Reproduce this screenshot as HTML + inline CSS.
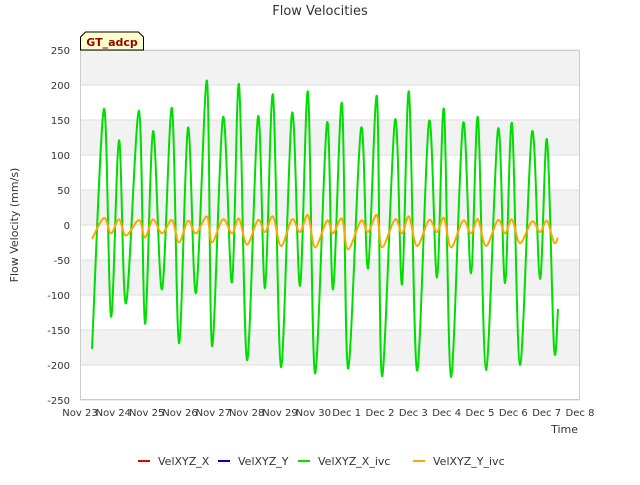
<!DOCTYPE html>
<html><head><meta charset="utf-8">
<style>
body{margin:0;background:#fff;font-family:"Liberation Sans","DejaVu Sans",sans-serif;}
svg text{font-family:"DejaVu Sans","Liberation Sans",sans-serif;}
</style></head>
<body>
<svg id="chart" width="640" height="480" xmlns="http://www.w3.org/2000/svg">
<rect width="640" height="480" fill="#fff"/>
<g id="bands"></g>
<g id="grid"></g>
<g id="series"></g>
<g id="axes"></g>
<text x="320" y="15" text-anchor="middle" font-size="13" fill="#333">Flow Velocities</text>
<text transform="translate(18,225) rotate(-90)" text-anchor="middle" font-size="11" fill="#333">Flow Velocity (mm/s)</text>
<text x="578" y="433" text-anchor="end" font-size="11" fill="#333">Time</text>
<g>
<path d="M80.5,50 L80.5,37 L85.5,32 L138.5,32 L143.5,37 L143.5,50 Z" fill="#ffffcc" stroke="#000" stroke-width="1"/>
<text x="112" y="46" text-anchor="middle" font-size="11" font-weight="bold" fill="#990000">GT_adcp</text>
</g>
<g id="legend"></g>
</svg>
<script>
const xTickLabels=["Nov 23","Nov 24","Nov 25","Nov 26","Nov 27","Nov 28","Nov 29","Nov 30","Dec 1","Dec 2","Dec 3","Dec 4","Dec 5","Dec 6","Dec 7","Dec 8"];
const yTicks=[-250,-200,-150,-100,-50,0,50,100,150,200,250];
const extremeX=[92,104,111,119,126,139,145,153,162,172,179,188,196,207,212,223,232,239,247,258,265,273,281,292,300,308,315,327,333,342,348,361,368,377,382,395,402,409,417,429,437,444,451,463,471,478,486,498,505,512,520,532,540,547,554,558];
const greenVals=[-177,166,-131,121,-112,163,-141,134,-92,167,-169,139,-97,206,-173,154,-82,201,-193,155,-90,186,-203,160,-87,190,-212,146,-92,174,-205,138,-62,183,-216,150,-85,190,-208,148,-75,165,-217,145,-69,153,-207,137,-83,145,-200,133,-77,122,-175,-120];
const orangeVals=[-20,10,-12,8,-15,7,-18,8,-12,7,-25,6,-12,12,-25,8,-12,9,-28,7,-10,12,-30,8,-10,14,-32,6,-12,9,-35,6,-10,14,-32,8,-12,12,-30,7,-10,10,-32,6,-12,8,-30,7,-12,8,-26,5,-10,6,-25,-18];
const greenTimes=extremeX.map(v=>(v-80)/33.333);
const NS="http://www.w3.org/2000/svg";
const L=80,R=580,T=50,B=400;
const xs=d=>L+d*(R-L)/15;
const ys=v=>T+(250-v)*(B-T)/500;
function mk(tag,attrs,parent){const e=document.createElementNS(NS,tag);for(const k in attrs)e.setAttribute(k,attrs[k]);parent.appendChild(e);return e;}
const bands=document.getElementById('bands'),grid=document.getElementById('grid'),axes=document.getElementById('axes'),series=document.getElementById('series'),legend=document.getElementById('legend');
for(let i=0;i<yTicks.length-1;i++){
  if(i%2===1){
    const r=mk('rect',{x:L,y:ys(yTicks[i+1]),width:R-L,height:ys(yTicks[i])-ys(yTicks[i+1]),fill:'#f2f2f2'},bands);
    
    
  }
}
yTicks.forEach(v=>{
  const l=mk('line',{x1:L,x2:R,y1:ys(v),y2:ys(v),stroke:'#dddddd','stroke-width':1},grid);
  
  
  const t=mk('text',{x:L-10,y:ys(v)+4,'text-anchor':'end','font-size':10,fill:'#333'},axes);
  t.textContent=v;
  
  
});
xTickLabels.forEach((s,i)=>{
  const t=mk('text',{x:xs(i),y:416,'text-anchor':'middle','font-size':10,fill:'#333'},axes);
  t.textContent=s;
  
  
});
const frame=mk('rect',{x:L+0.5,y:T+0.5,width:R-L-1,height:B-T-1,fill:'none',stroke:'#cccccc'},axes);


function smoothPath(ts,vs){
  const p=ts.map((t,i)=>[xs(t),ys(vs[i])]);
  let d='M'+p[0][0]+','+p[0][1];
  for(let i=0;i<p.length-1;i++){
    const p0=p[Math.max(0,i-1)],p1=p[i],p2=p[i+1],p3=p[Math.min(p.length-1,i+2)];
    const c1=[p1[0]+(p2[0]-p0[0])/6,p1[1]+(p2[1]-p0[1])/6];
    const c2=[p2[0]-(p3[0]-p1[0])/6,p2[1]-(p3[1]-p1[1])/6];
    d+=' C'+c1[0]+','+c1[1]+' '+c2[0]+','+c2[1]+' '+p2[0]+','+p2[1];
  }
  return d;
}
const gp=mk('path',{d:smoothPath(greenTimes,greenVals),fill:'none',stroke:'#00dd00','stroke-width':2},series);


const op=mk('path',{d:smoothPath(greenTimes,orangeVals),fill:'none',stroke:'#ffa500','stroke-width':2},series);


const legendNames=["VelXYZ_X","VelXYZ_Y","VelXYZ_X_ivc","VelXYZ_Y_ivc"];
const legendColors=["#dd0000","#0000cc","#00dd00","#ffa500"];
const legendX=[138,218,298,413];
legendNames.forEach((n,i)=>{
  const g=mk('g',{},legend);
  
  
  mk('line',{x1:legendX[i],x2:legendX[i]+12,y1:461,y2:461,stroke:legendColors[i],'stroke-width':2},g);
  const t=mk('text',{x:legendX[i]+20,y:465,'font-size':11,fill:'#333'},g);
  t.textContent=n;
});
</script>
</body></html>
